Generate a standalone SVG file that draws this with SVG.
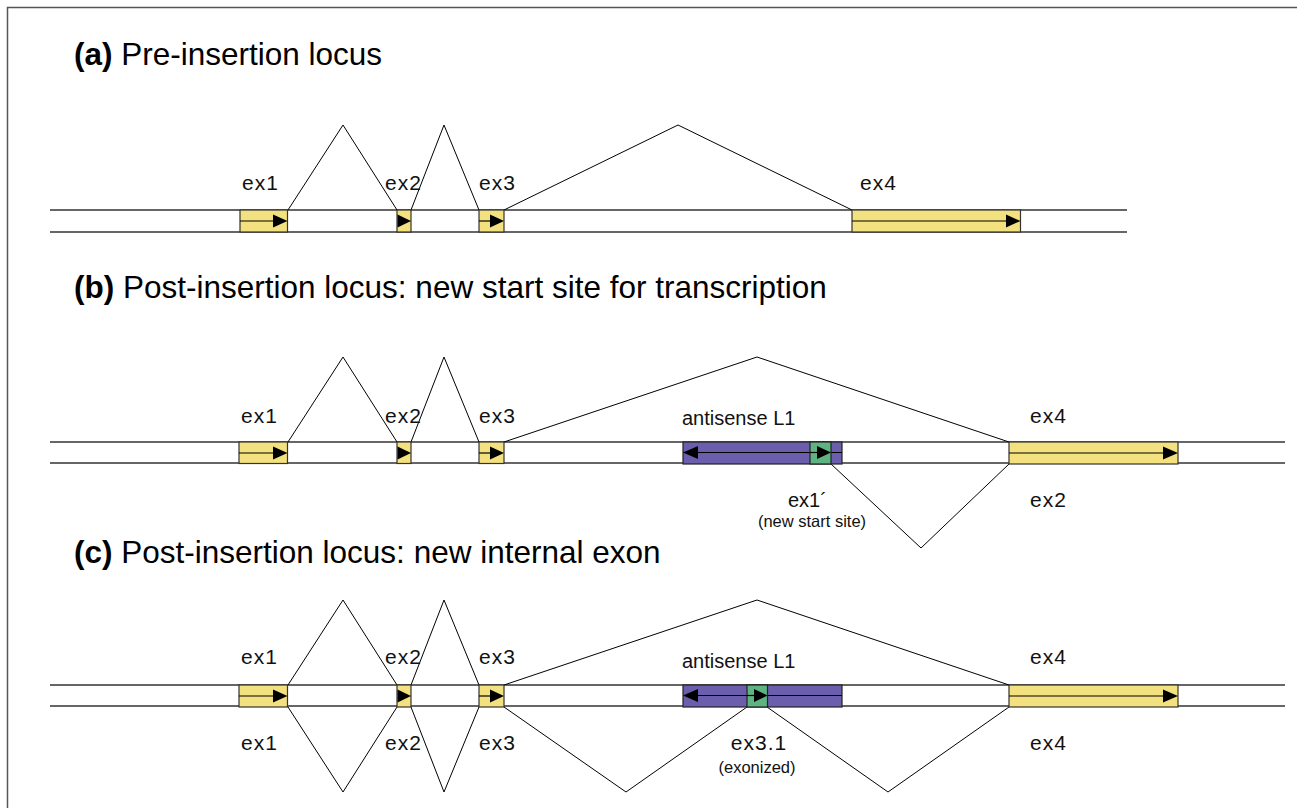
<svg xmlns="http://www.w3.org/2000/svg" width="1297" height="808" viewBox="0 0 1297 808">
<defs>
<style>
.frame{fill:none;stroke:#555;stroke-width:1.5}
.track{stroke:#333;stroke-width:1.5;fill:none}
.intron{stroke:#000;stroke-width:1;fill:none}
.exon{fill:#f3e07e;stroke:#333;stroke-width:1.2}
.l1{fill:#6b5eac;stroke:#222;stroke-width:1.2}
.gr{fill:#5fb383;stroke:#222;stroke-width:1.2}
.ar{stroke:#000;stroke-width:1.2;fill:none}
.tri{fill:#000}
.title{font-family:"Liberation Sans",Arial,sans-serif;font-size:31.5px;fill:#000}
.title tspan.b{font-weight:bold}
.lab{font-family:"Liberation Sans",Arial,sans-serif;font-size:21px;letter-spacing:1px;fill:#111}
.lab2{font-family:"Liberation Sans",Arial,sans-serif;font-size:20px;fill:#111}
.sm{font-family:"Liberation Sans",Arial,sans-serif;font-size:16.5px;fill:#111}
</style>
</defs>
<rect width="1297" height="808" fill="#fff"/>
<rect class="frame" x="7.5" y="7.5" width="1300" height="820"/>

<text class="title" x="74" y="65"><tspan class="b">(a)</tspan> Pre-insertion locus</text>
<text class="title" x="74" y="298"><tspan class="b">(b)</tspan> Post-insertion locus: new start site for transcription</text>
<text class="title" x="74" y="563"><tspan class="b">(c)</tspan> Post-insertion locus: new internal exon</text>

<g id="connectors">
<line class="track" x1="50" y1="210" x2="1127" y2="210"/>
<line class="track" x1="50" y1="232" x2="1127" y2="232"/>
<line class="track" x1="50" y1="442" x2="1285" y2="442"/>
<line class="track" x1="50" y1="463" x2="1285" y2="463"/>
<line class="track" x1="50" y1="685" x2="1285" y2="685"/>
<line class="track" x1="50" y1="706" x2="1285" y2="706"/>
<polyline class="intron" points="288,210 343,125 397,210"/>
<polyline class="intron" points="411,210 444,125 479,210"/>
<polyline class="intron" points="504,210 678,125 852,210"/>
<polyline class="intron" points="288,442 343,357 397,442"/>
<polyline class="intron" points="411,442 444,357 479,442"/>
<polyline class="intron" points="504,442 757,357 1009,442"/>
<polyline class="intron" points="831,464 921,548 1009,464"/>
<polyline class="intron" points="288,685 343,600 397,685"/>
<polyline class="intron" points="411,685 444,600 479,685"/>
<polyline class="intron" points="504,685 757,600 1009,685"/>
<polyline class="intron" points="288,707 343,792 397,707"/>
<polyline class="intron" points="411,707 444,792 479,707"/>
<polyline class="intron" points="504,707 626,792 747,707"/>
<polyline class="intron" points="767,707 888,792 1009,707"/>
</g>

<g id="a-ex1"><rect class="exon" x="240" y="210" width="47.5" height="22"/><line class="ar" x1="240" y1="221" x2="274" y2="221"/><polygon class="tri" points="273,214.5 287.5,221 273,227.5"/><text class="lab" x="242" y="190">ex1</text></g>
<g id="a-ex2"><rect class="exon" x="397" y="210" width="14" height="22"/><polygon class="tri" points="397.5,214.5 411,221 397.5,227.5"/><text class="lab" x="385" y="190">ex2</text></g>
<g id="a-ex3"><rect class="exon" x="479" y="210" width="25" height="22"/><line class="ar" x1="479" y1="221" x2="491" y2="221"/><polygon class="tri" points="490,214.5 504,221 490,227.5"/><text class="lab" x="479" y="190">ex3</text></g>
<g id="a-ex4"><rect class="exon" x="852" y="210" width="168.5" height="22"/><line class="ar" x1="852" y1="221" x2="1007" y2="221"/><polygon class="tri" points="1006,214.5 1020.5,221 1006,227.5"/><text class="lab" x="860" y="190">ex4</text></g>

<g id="b-ex1"><rect class="exon" x="239" y="442" width="48.5" height="21.5"/><line class="ar" x1="239" y1="453" x2="274" y2="453"/><polygon class="tri" points="273,446.5 287.5,453 273,459.5"/><text class="lab" x="241" y="423">ex1</text></g>
<g id="b-ex2"><rect class="exon" x="397" y="442" width="14" height="21.5"/><polygon class="tri" points="397.5,446.5 411,453 397.5,459.5"/><text class="lab" x="385" y="423">ex2</text></g>
<g id="b-ex3"><rect class="exon" x="479" y="442" width="25" height="21.5"/><line class="ar" x1="479" y1="453" x2="491" y2="453"/><polygon class="tri" points="490,446.5 504,453 490,459.5"/><text class="lab" x="479" y="423">ex3</text></g>
<g id="b-L1"><rect class="l1" x="683" y="442" width="159" height="22"/><line class="ar" x1="697" y1="452.5" x2="842" y2="452.5"/><polygon class="tri" points="683,452.5 698,446 698,459"/><text class="lab2" x="682" y="425">antisense L1</text></g>
<g id="b-ex1p"><rect class="gr" x="810" y="442" width="21" height="22"/><line class="ar" x1="810" y1="452.5" x2="818" y2="452.5"/><polygon class="tri" points="817,446 831,452.5 817,459"/><text class="lab2" x="788" y="507">ex1´</text><text class="sm" x="812" y="527" text-anchor="middle">(new start site)</text></g>
<g id="b-ex4"><rect class="exon" x="1009" y="442" width="169" height="22"/><line class="ar" x1="1009" y1="453" x2="1164" y2="453"/><polygon class="tri" points="1163,446.5 1178,453 1163,459.5"/><text class="lab" x="1030" y="423">ex4</text><text class="lab" x="1030" y="507">ex2</text></g>

<g id="c-ex1"><rect class="exon" x="239" y="685" width="48.5" height="22"/><line class="ar" x1="239" y1="696" x2="274" y2="696"/><polygon class="tri" points="273,689.5 287.5,696 273,702.5"/><text class="lab" x="241" y="664">ex1</text><text class="lab" x="241" y="750">ex1</text></g>
<g id="c-ex2"><rect class="exon" x="397" y="685" width="14" height="22"/><polygon class="tri" points="397.5,689.5 411,696 397.5,702.5"/><text class="lab" x="385" y="664">ex2</text><text class="lab" x="385" y="750">ex2</text></g>
<g id="c-ex3"><rect class="exon" x="479" y="685" width="25" height="22"/><line class="ar" x1="479" y1="696" x2="491" y2="696"/><polygon class="tri" points="490,689.5 504,696 490,702.5"/><text class="lab" x="479" y="664">ex3</text><text class="lab" x="479" y="750">ex3</text></g>
<g id="c-L1"><rect class="l1" x="683" y="685" width="159" height="22"/><line class="ar" x1="697" y1="695.5" x2="842" y2="695.5"/><polygon class="tri" points="683,695.5 698,689 698,702"/><text class="lab2" x="682" y="668">antisense L1</text></g>
<g id="c-ex31"><rect class="gr" x="747" y="685" width="20.5" height="22"/><line class="ar" x1="747" y1="695.5" x2="755" y2="695.5"/><polygon class="tri" points="754,689 767.5,695.5 754,702"/><text class="lab" x="759" y="750" text-anchor="middle">ex3.1</text><text class="sm" x="757" y="773" text-anchor="middle">(exonized)</text></g>
<g id="c-ex4"><rect class="exon" x="1009" y="685" width="169" height="22"/><line class="ar" x1="1009" y1="696" x2="1164" y2="696"/><polygon class="tri" points="1163,689.5 1178,696 1163,702.5"/><text class="lab" x="1030" y="664">ex4</text><text class="lab" x="1030" y="750">ex4</text></g>
</svg>
